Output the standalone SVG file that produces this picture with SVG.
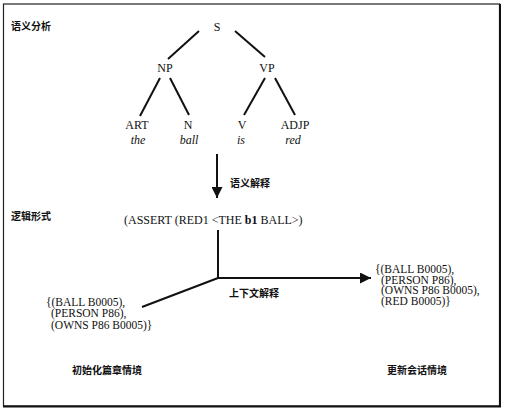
<svg xmlns="http://www.w3.org/2000/svg" width="505" height="415" viewBox="0 0 505 415">
<style>
.t{font-family:"Liberation Serif","Times New Roman",serif;font-size:12px;fill:#111}
.s{font-size:11.5px}
.i{font-style:italic}
.c{font-family:"Noto Sans CJK SC","Noto Sans",sans-serif;font-size:10px;font-weight:bold;fill:#111}
.ln{stroke:#111;stroke-width:2;fill:none;stroke-linecap:butt}
</style>
<defs>
<marker id="ah" viewBox="0 0 10 10" refX="10" refY="5" markerWidth="5.5" markerHeight="5.5" markerUnits="strokeWidth" orient="auto">
<path d="M0,0 L10,5 L0,10 Z" fill="#111"/>
</marker>
</defs>
<rect x="0" y="0" width="505" height="415" fill="#fff"/>
<rect x="3.5" y="4" width="496" height="402" fill="none" stroke="#222" stroke-width="1.2"/>
<line x1="500" y1="4" x2="500" y2="407" stroke="#111" stroke-width="2"/>
<line x1="3" y1="406.5" x2="501" y2="406.5" stroke="#111" stroke-width="2"/>

<g id="labels">
<text class="c" x="11" y="30">语义分析</text>
<text class="c" x="11" y="220">逻辑形式</text>
<text class="c" x="72" y="374">初始化篇章情境</text>
<text class="c" x="387" y="374">更新会话情境</text>
</g>

<g id="connectors">
<line class="ln" x1="199" y1="31" x2="168" y2="59"/>
<line class="ln" x1="235" y1="31" x2="265" y2="57"/>
<line class="ln" x1="160" y1="78" x2="140" y2="116"/>
<line class="ln" x1="170" y1="78" x2="189" y2="115"/>
<line class="ln" x1="265" y1="78" x2="244" y2="115"/>
<line class="ln" x1="275" y1="78" x2="295" y2="115"/>
<line class="ln" x1="217" y1="154" x2="217" y2="198" marker-end="url(#ah)"/>
<polyline class="ln" points="218,230 218,278 142,307"/>
<line class="ln" x1="217" y1="278" x2="371" y2="278" marker-end="url(#ah)"/>
<text class="c" x="230" y="187">语义解释</text>
<text class="c" x="229" y="297">上下文解释</text>
</g>

<g id="node-S"><text class="t" x="217" y="31" text-anchor="middle">S</text></g>
<g id="node-NP"><text class="t" x="165" y="72" text-anchor="middle">NP</text></g>
<g id="node-VP"><text class="t" x="267" y="72" text-anchor="middle">VP</text></g>
<g id="node-ART"><text class="t" x="137" y="129" text-anchor="middle">ART</text><text class="t i" x="138" y="144" text-anchor="middle">the</text></g>
<g id="node-N"><text class="t" x="188" y="129" text-anchor="middle">N</text><text class="t i" x="189" y="144" text-anchor="middle">ball</text></g>
<g id="node-V"><text class="t" x="242" y="129" text-anchor="middle">V</text><text class="t i" x="241" y="144" text-anchor="middle">is</text></g>
<g id="node-ADJP"><text class="t" x="295" y="129" text-anchor="middle">ADJP</text><text class="t i" x="293" y="144" text-anchor="middle">red</text></g>

<g id="node-logic"><text class="t" x="124" y="224">(ASSERT (RED1 &lt;THE <tspan font-weight="bold">b1</tspan> BALL&gt;)</text></g>

<g id="node-initial">
<text class="t s" x="46" y="305.5">{(BALL B0005),<tspan x="51" y="317">(PERSON P86),</tspan><tspan x="51" y="328.5">(OWNS P86 B0005)}</tspan></text>
</g>

<g id="node-updated">
<text class="t s" x="375" y="273">{(BALL B0005),<tspan x="381" y="283.5">(PERSON P86),</tspan><tspan x="381" y="294">(OWNS P86 B0005),</tspan><tspan x="381" y="304.5">(RED B0005)}</tspan></text>
</g>
</svg>
